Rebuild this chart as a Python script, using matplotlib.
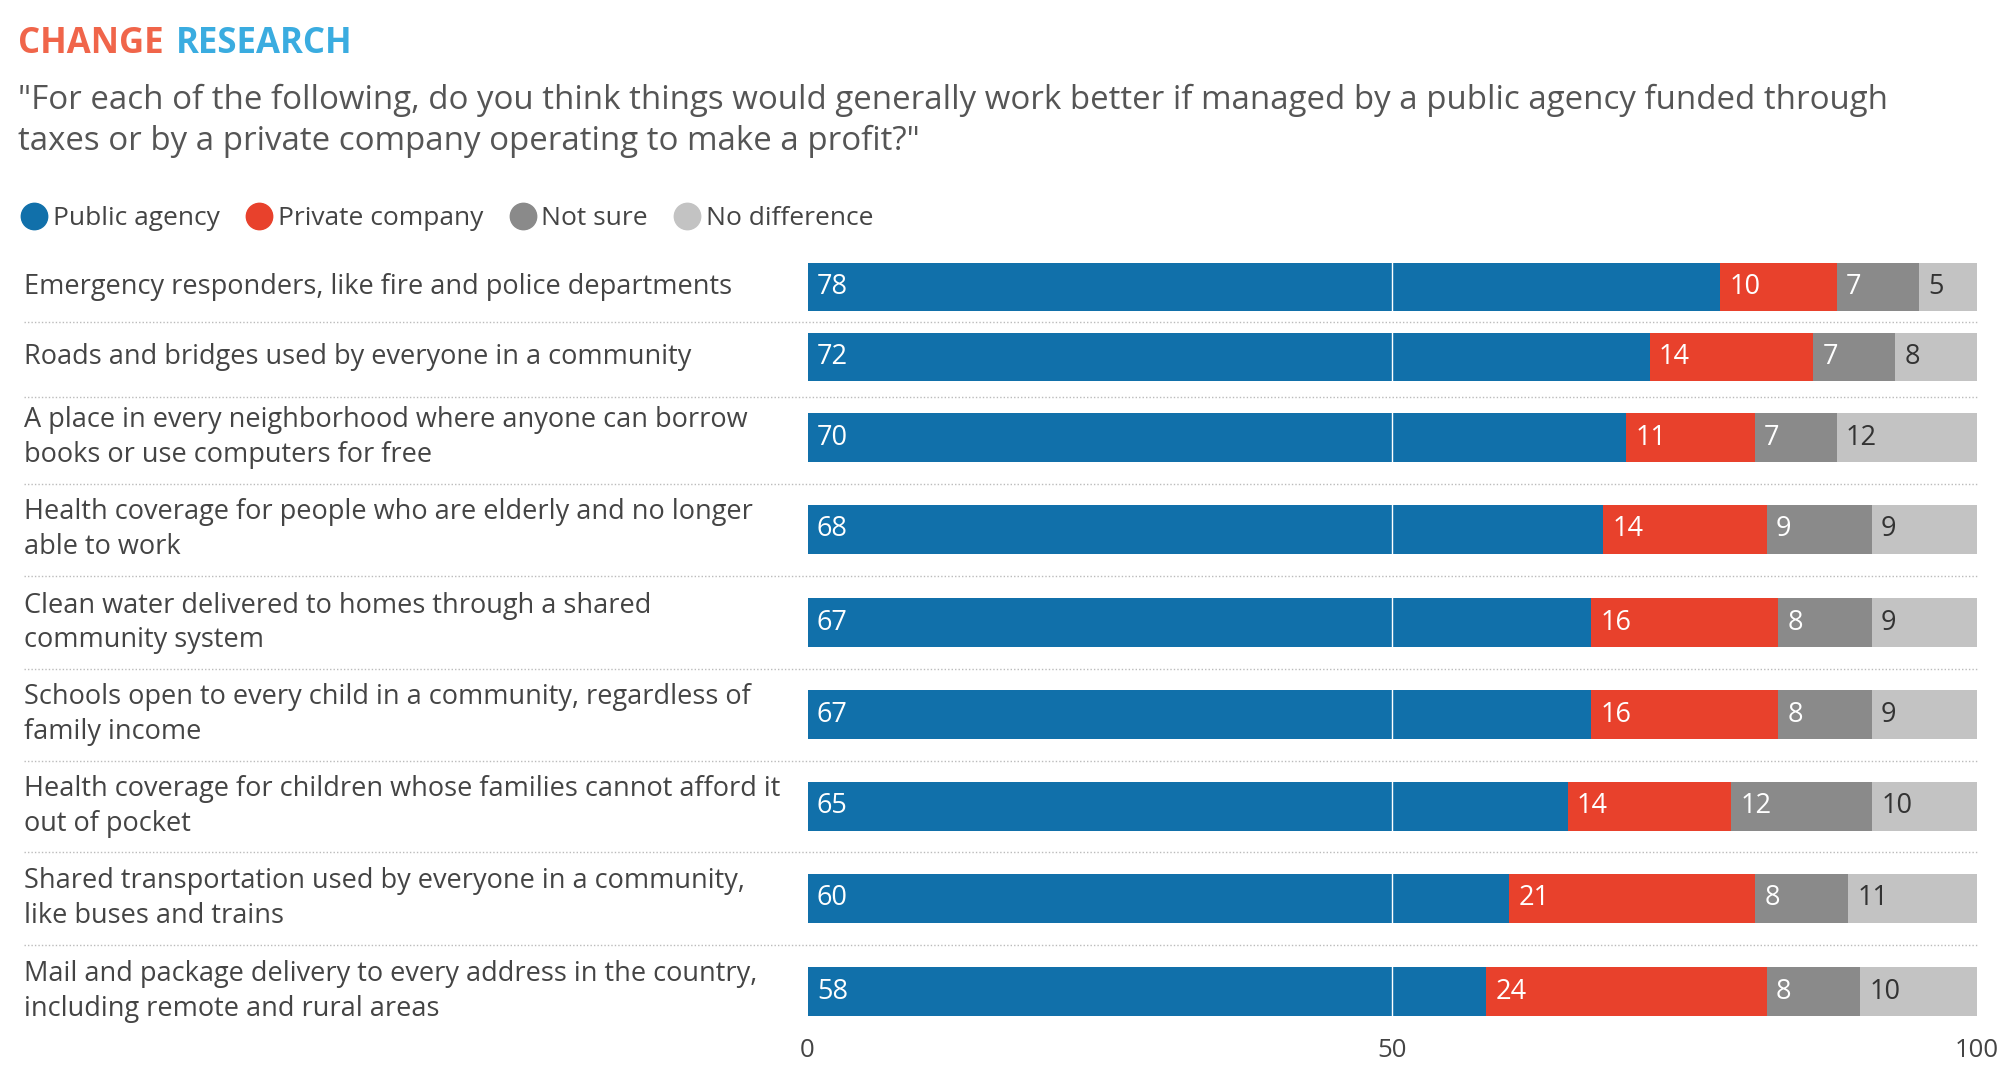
import matplotlib.pyplot as plt
from matplotlib.lines import Line2D

plt.rcParams['font.family'] = ['Open Sans', 'DejaVu Sans']

labels = [
    'Emergency responders, like fire and police departments',
    'Roads and bridges used by everyone in a community',
    'A place in every neighborhood where anyone can borrow\nbooks or use computers for free',
    'Health coverage for people who are elderly and no longer\nable to work',
    'Clean water delivered to homes through a shared\ncommunity system',
    'Schools open to every child in a community, regardless of\nfamily income',
    'Health coverage for children whose families cannot afford it\nout of pocket',
    'Shared transportation used by everyone in a community,\nlike buses and trains',
    'Mail and package delivery to every address in the country,\nincluding remote and rural areas',
]
public = [78, 72, 70, 68, 67, 67, 65, 60, 58]
private = [10, 14, 11, 14, 16, 16, 14, 21, 24]
not_sure = [7, 7, 7, 9, 8, 8, 12, 8, 8]
no_diff = [5, 8, 12, 9, 9, 9, 10, 11, 10]
series = ['Public agency', 'Private company', 'Not sure', 'No difference']
colors = ['#1170AA', '#E8412C', '#8A8A8A', '#C3C3C3']
text_colors = ['white', 'white', 'white', '#333333']

# row centres (vertical layout, pixel-like units)
ypos = [225, 280, 343, 415, 488, 560, 632, 704, 777]

fig = plt.figure(figsize=(19.99, 10.78), dpi=100)
ax = fig.add_axes([0.404, 0.047, 0.585, 0.72])

left = [0] * len(public)
for vals, col, tc in zip([public, private, not_sure, no_diff], colors, text_colors):
    ax.barh(ypos, vals, left=left, height=38, color=col)
    for y, l, v in zip(ypos, left, vals):
        ax.text(l + 0.8, y, str(v), color=tc, va='center', ha='left', fontsize=19.5)
    left = [a + b for a, b in zip(left, vals)]

ax.axvline(50, color='white', lw=1)
ax.set_xlim(0, 100)
ax.set_ylim(805, 197)
ax.set_xticks([0, 50, 100])
ax.tick_params(axis='x', length=0, labelsize=18.5, labelcolor='#444444', pad=8)
ax.set_yticks([])
for s in ax.spines.values():
    s.set_visible(False)

tr = ax.get_yaxis_transform()
for y, lab in zip(ypos, labels):
    ax.text(-0.67, y, lab, transform=tr, ha='left', va='center', fontsize=19.5,
            color='#444444', linespacing=1.3)
for a, b in zip(ypos[:-1], ypos[1:]):
    ax.plot([-0.67, 1], [(a + b) / 2] * 2, transform=tr, clip_on=False,
            color='#BBBBBB', lw=1, ls=(0, (1, 1.5)))

fig.text(0.009, 0.959, 'CHANGE', color='#F0654A', fontsize=25, fontweight='bold', va='center')
fig.text(0.088, 0.959, 'RESEARCH', color='#3AACE0', fontsize=25, fontweight='bold', va='center')
fig.text(0.009, 0.888,
         '"For each of the following, do you think things would generally work better if managed by a public agency funded through\n'
         'taxes or by a private company operating to make a profit?"',
         fontsize=23.8, color='#555555', va='center', linespacing=1.33)

handles = [Line2D([], [], marker='o', ls='', color=c, markersize=19) for c in colors]
fig.legend(handles, series, loc='center left', bbox_to_anchor=(-0.008, 0.797), ncol=4,
           frameon=False, fontsize=19, handletextpad=-0.3, columnspacing=0.5,
           labelcolor='#444444')

fig.savefig('out.png', dpi=100, facecolor='white')
